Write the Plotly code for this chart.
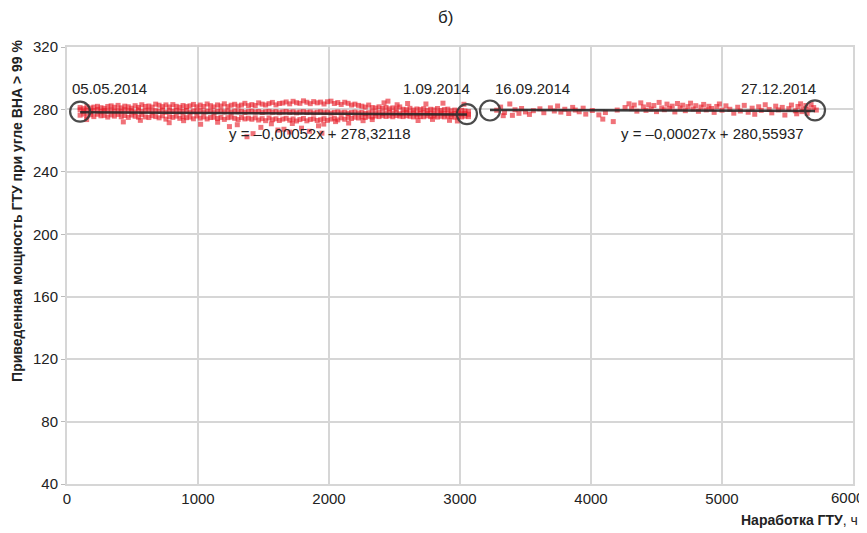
import plotly.graph_objects as go

FONT = "Liberation Sans, Arial, sans-serif"

# --- period 1 (05.05.2014 - 1.09.2014): dense band of points
pts1_x = [100, 128, 152, 181, 205, 233, 259, 284, 311, 337,
          362, 390, 414, 441, 468, 493, 520, 546, 571, 598,
          625, 650, 677, 703, 729, 755, 782, 808, 834, 861,
          886, 912, 939, 965, 991, 1017, 1044, 1070, 1096, 1122,
          1149, 1175, 1201, 1228, 1253, 1280, 1306, 1332, 1358, 1385,
          1411, 1437, 1463, 1490, 1516, 1542, 1568, 1595, 1621, 1647,
          1673, 1700, 1726, 1752, 1778, 1805, 1831, 1857, 1883, 1910,
          1936, 1962, 1988, 2015, 2041, 2067, 2093, 2120, 2146, 2172,
          2198, 2225, 2251, 2277, 2303, 2330, 2356, 2382, 2408, 2435,
          2461, 2487, 2513, 2540, 2566, 2592, 2618, 2645, 2671, 2697,
          2723, 2750, 2776, 2802, 2828, 2855, 2881, 2907, 2933, 2960,
          2986, 3012, 3038, 3065]
pts1_upper = [281.2, 280.5, 281.8, 280.9, 281.5, 282.0, 281.1, 280.7, 281.9, 282.3,
              281.4, 282.6, 281.0, 282.1, 281.7, 280.8, 282.4, 281.3, 283.0, 281.9,
              282.2, 281.5, 283.4, 282.7, 281.8, 282.9, 281.6, 283.1, 282.0, 281.4,
              282.5, 281.8, 282.3, 283.2, 281.7, 282.8, 281.9, 283.5, 282.4, 281.6,
              282.9, 282.2, 283.6, 281.8, 282.7, 283.3, 282.1, 282.8, 283.9, 282.4,
              283.1, 282.5, 284.2, 283.4, 282.8, 283.7, 284.5, 282.9, 283.8, 284.1,
              284.8, 283.6, 285.2, 284.3, 283.9, 285.5, 284.6, 283.7, 285.0, 284.2,
              284.7, 283.5, 284.9, 285.3, 283.8, 284.4, 283.2, 284.6, 283.9, 282.8,
              283.4, 282.6, 282.1, 281.5, 282.8, 281.2, 280.9, 281.7, 280.6, 281.3,
              280.4, 281.0, 280.2, 281.6, 280.1, 279.8, 280.7, 279.6, 280.3, 279.9,
              280.5, 279.4, 280.1, 279.7, 280.6, 279.3, 279.9, 280.2, 279.1, 279.6,
              278.9, 279.4, 279.0, 278.6]
pts1_mid = [279.8, 278.9, 279.5, 278.4, 279.2, 279.9, 278.6, 279.4, 278.8, 279.6,
            278.7, 279.3, 278.5, 279.8, 278.9, 279.1, 278.3, 279.7, 278.6, 279.0,
            279.5, 278.4, 279.2, 278.8, 279.6, 278.2, 279.1, 278.7, 279.4, 278.5,
            278.9, 279.3, 278.1, 279.0, 278.6, 279.4, 278.3, 278.8, 279.2, 278.0,
            278.7, 279.1, 278.4, 278.9, 278.2, 279.0, 278.5, 278.8, 278.1, 278.6,
            278.9, 278.3, 278.7, 278.0, 278.5, 278.8, 278.2, 278.6, 277.9, 278.4,
            278.7, 278.1, 278.5, 277.8, 278.3, 278.6, 278.0, 278.4, 277.7, 278.2,
            278.5, 277.9, 278.3, 277.6, 278.1, 278.4, 277.8, 278.2, 277.5, 278.0,
            278.3, 277.7, 278.1, 277.4, 277.9, 278.2, 277.6, 278.0, 277.3, 277.8,
            278.1, 277.5, 277.9, 277.2, 277.7, 278.0, 277.4, 277.8, 277.1, 277.6,
            277.9, 277.3, 277.7, 277.0, 277.5, 277.8, 277.2, 277.6, 276.9, 277.4,
            277.7, 277.1, 277.5, 276.9]
pts1_lower = [276.3, 277.0, 275.8, 276.6, 275.4, 276.9, 275.9, 276.2, 275.1, 276.5,
              275.7, 276.8, 275.3, 276.1, 274.9, 276.4, 275.6, 275.0, 276.7, 275.2,
              274.8, 276.0, 275.4, 274.6, 275.9, 273.8, 275.3, 274.9, 275.7, 274.3,
              275.5, 274.7, 275.1, 274.0, 275.8, 274.4, 275.2, 273.9, 274.8, 275.0,
              274.2, 274.9, 273.6, 274.7, 275.1, 274.3, 273.5, 274.8, 273.9, 274.4,
              273.7, 274.6, 273.2, 274.1, 272.8, 274.5, 273.4, 274.0, 272.9, 273.8,
              274.3, 273.1, 273.9, 272.6, 273.5, 274.2, 272.7, 273.6, 274.0, 272.9,
              273.4, 274.1, 273.0, 273.8, 274.4, 273.3, 274.6, 273.7, 274.9, 274.2,
              275.0, 274.5, 275.3, 274.8, 275.6, 275.1, 275.8, 275.4, 276.0, 275.5,
              275.9, 275.3, 276.1, 275.7, 275.4, 276.0, 275.6, 275.2, 275.8, 275.5,
              275.3, 275.9, 275.4, 275.7, 275.1, 275.6, 275.2, 275.8, 275.4, 275.0,
              275.5, 275.2, 275.7, 275.4]
out1_x = [150, 430, 560, 780, 890, 1020, 1150, 1240, 1300, 1374,
          1420, 1480, 1560, 1610, 1656, 1700, 1720, 1790, 1850, 1946,
          1920, 1960, 2050, 2150, 2260, 2330, 2420, 2450, 2520, 2600,
          2680, 2740, 2790, 2870, 2920, 2980, 3030]
out1_y = [273.5, 272.0, 273.0, 271.5, 272.8, 270.5, 271.8, 269.0, 270.2, 262.5,
          264.5, 268.5, 270.8, 266.8, 267.3, 265.5, 271.0, 268.0, 266.0, 264.8,
          269.5, 270.6, 272.2, 271.3, 272.8, 273.5, 284.2, 285.3, 283.0, 283.8,
          272.9, 283.5, 273.6, 284.0, 273.0, 272.6, 283.3]

# --- period 2 (16.09.2014 - 27.12.2014): sparser points
pts2_x = [3280, 3310, 3330, 3340, 3380, 3400, 3420, 3450, 3470, 3500,
          3530, 3560, 3610, 3640, 3690, 3720, 3745, 3770, 3800, 3830,
          3860, 3880, 3910, 3940, 3960, 4010, 4060, 4090, 4110, 4170,
          4200, 4260, 4290, 4310, 4330, 4350, 4380, 4400, 4420, 4440,
          4460, 4480, 4500, 4520, 4540, 4560, 4580, 4600, 4620, 4640,
          4660, 4680, 4700, 4720, 4740, 4760, 4780, 4800, 4820, 4840,
          4860, 4880, 4900, 4920, 4940, 4960, 4980, 5000, 5030, 5060,
          5090, 5120, 5140, 5170, 5200, 5230, 5250, 5280, 5300, 5330,
          5360, 5380, 5410, 5430, 5460, 5480, 5510, 5530, 5560, 5570,
          5580, 5600, 5610, 5620, 5640, 5650, 5660, 5680, 5700, 5720]
pts2_y = [279.5, 281.5, 276.0, 278.0, 283.5, 276.2, 279.8, 277.5, 280.6, 278.4,
          276.8, 279.2, 280.4, 277.9, 281.0, 279.0, 282.2, 278.3, 280.1, 277.4,
          281.3, 279.6, 278.5, 280.8, 277.0, 279.3, 276.5, 273.8, 278.0, 272.2,
          279.6, 281.2, 283.6, 280.5, 282.8, 278.9, 284.2, 281.6, 279.4, 283.0,
          280.2, 282.5, 278.6, 284.5, 281.0, 279.8, 283.4, 280.7, 282.1, 278.4,
          283.8, 280.9, 282.7, 279.2, 281.8, 284.0, 280.3, 282.4, 278.8, 281.5,
          283.2, 279.7, 282.0, 280.6, 278.1, 281.9, 283.5, 279.5, 282.3, 280.1,
          277.6, 281.4, 279.0, 282.6, 278.2, 280.8, 276.9, 281.7, 279.4, 283.0,
          280.0, 277.8, 282.1, 279.7, 281.3, 276.4, 280.5, 282.8, 279.1, 277.2,
          281.9, 283.6, 278.6, 280.4, 282.5, 277.5, 279.8, 283.1, 281.2, 279.6]

# --- trend lines (endpoints) and marked dates
trend1_x = [100, 3053]
trend1_y = [278.27, 276.73]
trend2_x = [3229, 5710]
trend2_y = [279.69, 279.02]
mark_x = [100, 3053, 3229, 5710]
mark_y = [278.6, 277.0, 279.3, 279.4]
date_labels = ["05.05.2014", "1.09.2014", "16.09.2014", "27.12.2014"]
date_label_x = [328, 2817, 3550, 5435]
eq_labels = ["y = –0,00052x + 278,32118", "y = –0,00027x + 280,55937"]
eq_label_x = [1931, 4931]

x_ticks = [0, 1000, 2000, 3000, 4000, 5000, 6000]
y_ticks = [40, 80, 120, 160, 200, 240, 280, 320]

RED = "rgba(230,28,38,0.62)"
mk = dict(symbol="square", size=5, color=RED, line=dict(width=0))

fig = go.Figure()
for ys in (pts1_upper, pts1_lower, pts1_mid):
    fig.add_trace(go.Scatter(x=pts1_x, y=ys, mode="markers", marker=mk, hoverinfo="skip"))
fig.add_trace(go.Scatter(x=out1_x, y=out1_y, mode="markers", marker=mk, hoverinfo="skip"))
fig.add_trace(go.Scatter(x=pts2_x, y=pts2_y, mode="markers", marker=mk, hoverinfo="skip"))
for tx, ty in ((trend1_x, trend1_y), (trend2_x, trend2_y)):
    fig.add_trace(go.Scatter(x=tx, y=ty, mode="lines",
                             line=dict(color="rgba(40,40,40,0.9)", width=2.5), hoverinfo="skip"))
fig.add_trace(go.Scatter(x=mark_x, y=mark_y, mode="markers",
                         marker=dict(symbol="circle-open", size=20,
                                     color="rgba(55,55,55,0.9)", line=dict(width=2.2)),
                         hoverinfo="skip"))

for lab, lx in zip(date_labels, date_label_x):
    fig.add_annotation(x=lx, y=293.7, text=lab, showarrow=False,
                       xanchor="center", yanchor="middle",
                       font=dict(family=FONT, size=15, color="#222"))
for lab, lx in zip(eq_labels, eq_label_x):
    fig.add_annotation(x=lx, y=264.9, text=lab, showarrow=False,
                       xanchor="center", yanchor="middle",
                       font=dict(family=FONT, size=15, color="#222"))

# last x tick label sits at the right page edge: draw it right-aligned so it stays visible
fig.add_annotation(xref="x", yref="paper", x=x_ticks[-1], y=0, yshift=-13,
                   xanchor="right", yanchor="middle", xshift=13,
                   text=str(x_ticks[-1]), showarrow=False,
                   font=dict(family=FONT, size=15, color="#222"))

fig.add_annotation(xref="paper", yref="paper", x=0.481, y=1.0664, text="б)",
                   xanchor="center", yanchor="middle",
                   showarrow=False, font=dict(family=FONT, size=17, color="#222"))
fig.add_annotation(xref="paper", yref="paper", x=-0.0636, y=0.625, textangle=-90,
                   xanchor="center", yanchor="middle",
                   text="<b>Приведенная мощность ГТУ при угле ВНА > 99 %</b>",
                   showarrow=False, font=dict(family=FONT, size=14, color="#222"))
fig.add_annotation(xref="paper", yref="paper", x=1, xshift=7, y=-0.082,
                   xanchor="right", yanchor="middle",
                   text="<b>Наработка ГТУ</b>, ч",
                   showarrow=False, font=dict(family=FONT, size=14, color="#222"))

x_ticktext = [str(v) for v in x_ticks[:-1]] + [""]

# page body has an 8px margin: figure is shifted by 8px right and down
fig.update_layout(
    width=859, height=525,
    margin=dict(l=59, r=14, t=39, b=49),
    paper_bgcolor="white", plot_bgcolor="white",
    showlegend=False,
    font=dict(family=FONT, size=15, color="#222"),
    xaxis=dict(range=[0, 6000], tickvals=x_ticks, ticktext=x_ticktext,
               showgrid=True, gridcolor="#d6d6d6", gridwidth=2,
               showline=True, linecolor="#d6d6d6", linewidth=2, mirror=True,
               zeroline=False, ticks="", automargin=False,
               tickfont=dict(family=FONT, size=15, color="#222")),
    yaxis=dict(range=[40, 320], tickvals=y_ticks, ticktext=[str(v) for v in y_ticks],
               showgrid=True, gridcolor="#d6d6d6", gridwidth=2,
               showline=True, linecolor="#d6d6d6", linewidth=2, mirror=True,
               zeroline=False, ticks="outside", ticklen=4, tickcolor="#bbb",
               automargin=False,
               tickfont=dict(family=FONT, size=15, color="#222")),
)

fig.write_html("out.html")
